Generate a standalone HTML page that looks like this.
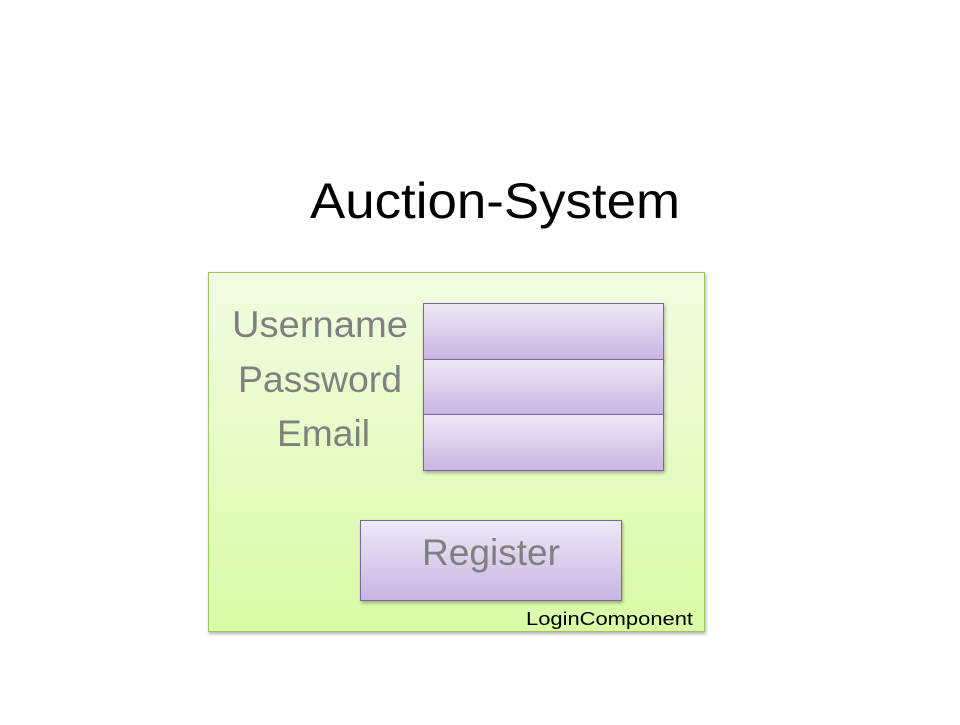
<!DOCTYPE html>
<html><head><style>html,body{margin:0;padding:0;background:#fff;}</style></head>
<body>
<svg width="960" height="720" xmlns="http://www.w3.org/2000/svg" font-family="Liberation Sans, sans-serif">
<defs>
<linearGradient id="g" x1="0" y1="0" x2="0" y2="1"><stop offset="0" stop-color="#f1fce2"/><stop offset="1" stop-color="#d9fba5"/></linearGradient>
<linearGradient id="p" x1="0" y1="0" x2="0" y2="1"><stop offset="0" stop-color="#efe8f6"/><stop offset="1" stop-color="#c8b4e2"/></linearGradient>
<filter id="s" x="-5%" y="-5%" width="110%" height="115%"><feDropShadow dx="1" dy="2" stdDeviation="1.5" flood-color="#000" flood-opacity="0.3"/></filter>
</defs>
<text x="310" y="218" font-size="50" textLength="370" lengthAdjust="spacingAndGlyphs" fill="#000">Auction-System</text>
<rect x="208.5" y="272.5" width="496" height="359" fill="url(#g)" stroke="#9bc75a" filter="url(#s)"/>
<rect x="423.5" y="303.5" width="240" height="56" fill="url(#p)" stroke="#8064a2" filter="url(#s)"/>
<rect x="423.5" y="359.5" width="240" height="55" fill="url(#p)" stroke="#8064a2" filter="url(#s)"/>
<rect x="423.5" y="414.5" width="240" height="56" fill="url(#p)" stroke="#8064a2" filter="url(#s)"/>
<rect x="360.5" y="520.5" width="261" height="80" fill="url(#p)" stroke="#8064a2" filter="url(#s)"/>
<g fill="#808080" font-size="37">
<text x="232" y="337" textLength="176" lengthAdjust="spacingAndGlyphs">Username</text>
<text x="238" y="392" textLength="164" lengthAdjust="spacingAndGlyphs">Password</text>
<text x="277" y="446" textLength="93" lengthAdjust="spacingAndGlyphs">Email</text>
<text x="422" y="565" textLength="138" lengthAdjust="spacingAndGlyphs">Register</text>
</g>
<text x="526" y="625" font-size="18" textLength="167" lengthAdjust="spacingAndGlyphs" fill="#000">LoginComponent</text>
</svg>
</body></html>
